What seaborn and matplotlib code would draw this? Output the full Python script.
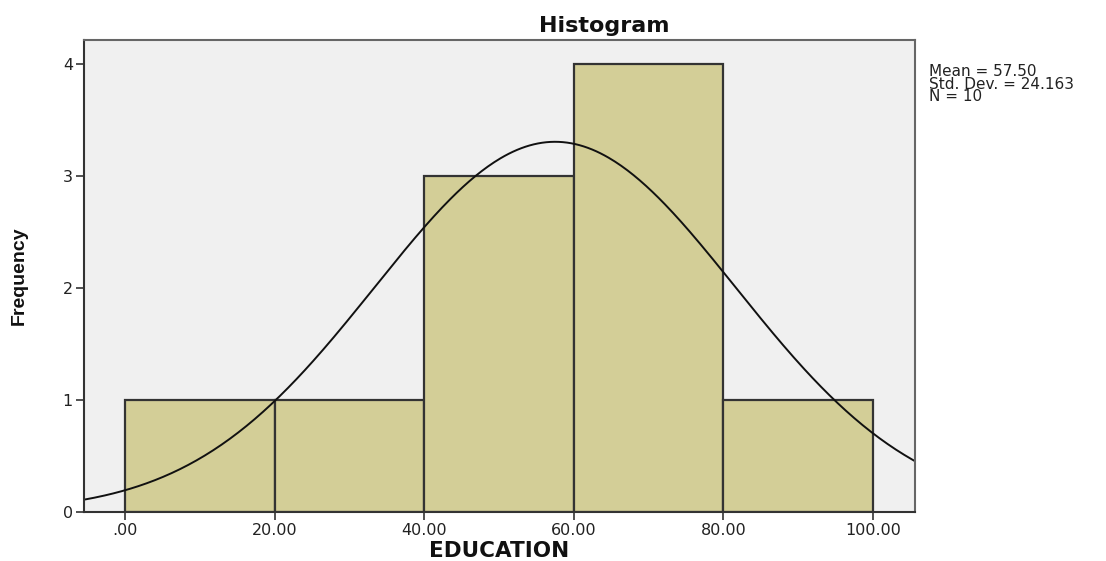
import matplotlib
matplotlib.use("Agg")
import matplotlib.pyplot as plt
import numpy as np
import pandas as pd
import seaborn as sns

# histogram bins and counts
bin_edges = [0, 20, 40, 60, 80, 100]
bin_counts = [1, 1, 3, 4, 1]
tick_labels = [".00", "20.00", "40.00", "60.00", "80.00", "100.00"]

# summary stats shown in the legend box
mean_val = 57.50
std_val = 24.163
n_val = 10

sns.set_theme(style="white")
plt.rcParams['font.family'] = ['DejaVu Sans']

bins_df = pd.DataFrame({"EDUCATION": bin_edges[:-1], "count": bin_counts})

fig = plt.figure(figsize=(11.06, 5.61), dpi=100)
ax = fig.add_axes([0.076, 0.0873, 0.751, 0.8414])
ax.set_facecolor("#F0F0F0")

sns.histplot(data=bins_df, x="EDUCATION", weights="count", bins=bin_edges,
             color="#D3CE97", alpha=1, edgecolor="#333333", linewidth=1.6, ax=ax)

# normal curve scaled to counts
xlim = (-5.5, 105.6)
xs = np.linspace(xlim[0], xlim[1], 400)
width = bin_edges[1] - bin_edges[0]
ys = n_val * width / (std_val * np.sqrt(2 * np.pi)) * np.exp(-0.5 * ((xs - mean_val) / std_val) ** 2)
sns.lineplot(x=xs, y=ys, color="#111111", linewidth=1.4, ax=ax)

ax.set_xlim(*xlim)
ax.set_ylim(0, 4.21)
ax.set_xticks(bin_edges)
ax.set_xticklabels(tick_labels)
ax.set_yticks([0, 1, 2, 3, 4])
ax.tick_params(axis="both", direction="out", length=6, width=1.2, color="#333333",
               labelsize=11.5, labelcolor="#222222", bottom=True, left=True, pad=2)

for side in ["left", "bottom"]:
    ax.spines[side].set_color("#333333")
    ax.spines[side].set_linewidth(1.5)
for side in ["top", "right"]:
    ax.spines[side].set_color("#666666")
    ax.spines[side].set_linewidth(1.5)

ax.set_xlabel("EDUCATION", fontsize=15.5, fontweight="bold", labelpad=2, color="#111111")
ax.set_ylabel("Frequency", fontsize=14, fontweight="bold", color="#111111",
              family=["Liberation Sans Narrow", "Liberation Sans"])
ax.yaxis.set_label_coords(-0.068, 0.5)

fig.text(0.546, 0.943, "Histogram", fontsize=16, fontweight="bold",
         ha="center", va="baseline", color="#111111")

fig.text(0.840, 0.886, f"Mean = {mean_val:.2f}\nStd. Dev. = {std_val:.3f}\nN = {n_val}",
         fontsize=11, va="top", ha="left", linespacing=0.8, color="#222222")

fig.savefig("out.png", dpi=100)
